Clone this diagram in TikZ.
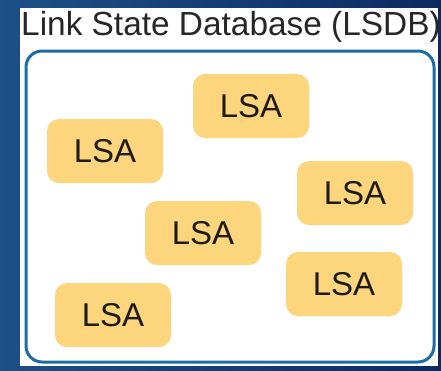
\documentclass[tikz,border=0pt]{standalone}
\usepackage{fontspec}
\setmainfont{Liberation Sans}
\definecolor{bgL}{RGB}{29,80,134}
\definecolor{bgR}{RGB}{12,42,98}
\definecolor{frameblue}{RGB}{28,108,165}
\definecolor{lsafill}{RGB}{252,213,124}
\definecolor{txt}{RGB}{30,26,22}
\definecolor{titlecol}{RGB}{38,38,38}
\begin{document}
\begin{tikzpicture}[x=1pt,y=-1pt,
  lsabox/.style={fill=lsafill,rounded corners=12pt,minimum width=116pt,minimum height=64pt,
    text=txt,font=\fontsize{33}{33}\selectfont,inner sep=0pt},
  titletext/.style={text=titlecol,font=\fontsize{33.4}{33.4}\selectfont,anchor=base west,inner sep=0pt}]
\useasboundingbox (0,0) rectangle (441,370);
\shade[left color=bgL,right color=bgR] (0,0) rectangle (441,370);
\fill[white] (20,8) rectangle (438,366);
\node[titletext] (title) at (21,35) {Link State Database (LSDB)};
\draw[frameblue,line width=3pt,rounded corners=16pt] (26,51) rectangle (434,362);
\node[lsabox] (l1) at (251,106) {LSA};
\node[lsabox] (l2) at (105,151) {LSA};
\node[lsabox] (l3) at (355,193) {LSA};
\node[lsabox] (l4) at (203,233) {LSA};
\node[lsabox] (l5) at (344,284) {LSA};
\node[lsabox] (l6) at (113,315) {LSA};
\end{tikzpicture}
\end{document}
